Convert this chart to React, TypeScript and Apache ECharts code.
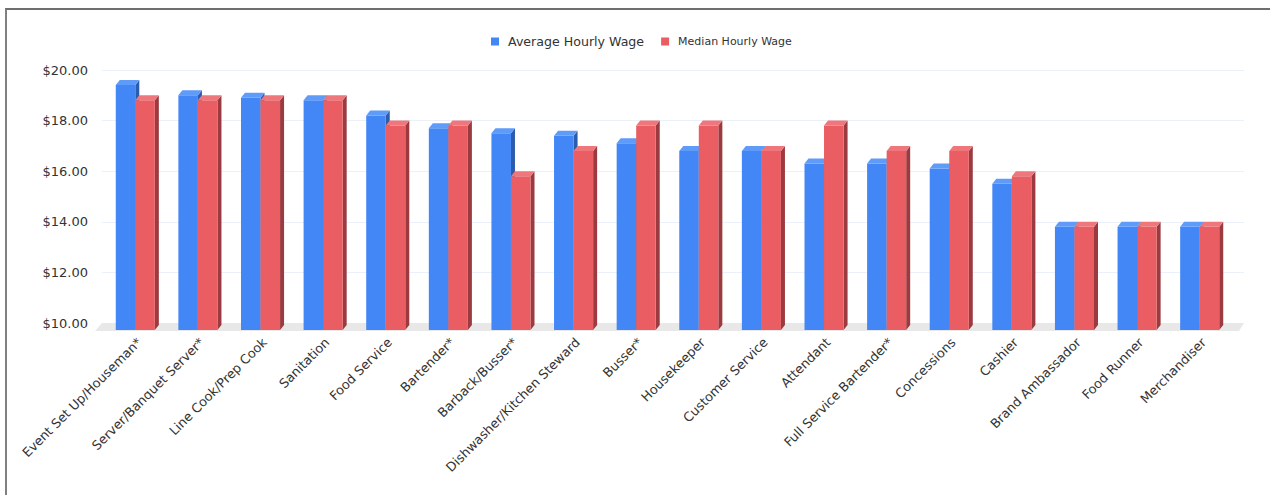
import React, { useEffect, useRef } from "react";
import * as echarts from "echarts";

const categories = [
  "Event Set Up/Houseman*",
  "Server/Banquet Server*",
  "Line Cook/Prep Cook",
  "Sanitation",
  "Food Service",
  "Bartender*",
  "Barback/Busser*",
  "Dishwasher/Kitchen Steward",
  "Busser*",
  "Housekeeper",
  "Customer Service",
  "Attendant",
  "Full Service Bartender*",
  "Concessions",
  "Cashier",
  "Brand Ambassador",
  "Food Runner",
  "Merchandiser",
];

const averageWage = [19.6, 19.2, 19.1, 19.0, 18.4, 17.9, 17.7, 17.6, 17.3, 17.0, 17.0, 16.5, 16.5, 16.3, 15.7, 14.0, 14.0, 14.0];
const medianWage = [19, 19, 19, 19, 18, 18, 16, 17, 18, 18, 17, 18, 17, 17, 16, 14, 14, 14];

const yTicks = [10, 12, 14, 16, 18, 20];

const seriesNames = ["Average Hourly Wage", "Median Hourly Wage"];

const palette = [
  { front: "#4386f5", top: "#5f9bf8", side: "#2b5cad" },
  { front: "#e95d63", top: "#ef777c", side: "#9b3a3f" },
];

const DX = 4;
const DY = 5;

function makeBarSeries(s: number, values: number[]) {
  return {
    type: "custom",
    name: seriesNames[s],
    xAxisIndex: 0,
    yAxisIndex: 0,
    z: 3,
    silent: true,
    itemStyle: { color: palette[s].front },
    encode: { x: 0, y: 1 },
    data: values.map((v, i) => [i, v]),
    renderItem: (params: any, api: any) => {
      const i = api.value(0);
      const v = api.value(1);
      const top = api.coord([i, v]);
      const base = api.coord([i, yTicks[0]]);
      const band = api.size([1, 0])[0];
      const w = band * 0.312;
      const bx = s === 0 ? top[0] - w : top[0];
      const fx = bx - DX;
      const fyTop = top[1] + DY;
      const fyBot = base[1] + 7;
      const c = palette[s];
      return {
        type: "group",
        children: [
          {
            type: "polygon",
            shape: {
              points: [
                [fx + w, fyTop],
                [fx + w + DX, fyTop - DY],
                [fx + w + DX, fyBot - DY],
                [fx + w, fyBot],
              ],
            },
            style: { fill: c.side },
          },
          {
            type: "rect",
            shape: { x: fx, y: fyTop, width: w, height: fyBot - fyTop },
            style: { fill: c.front },
          },
          {
            type: "polygon",
            shape: {
              points: [
                [fx, fyTop],
                [fx + DX, fyTop - DY],
                [fx + w + DX, fyTop - DY],
                [fx + w, fyTop],
              ],
            },
            style: { fill: c.top },
          },
        ],
      };
    },
  };
}

export default function App() {
  const ref = useRef<HTMLDivElement>(null);

  useEffect(() => {
    if (!ref.current) return;
    const chart = echarts.init(ref.current, null, { renderer: "svg" });
    const option: any = {
      animation: false,
      backgroundColor: "transparent",
      textStyle: { fontFamily: "DejaVu Sans" },
      legend: {
        data: seriesNames,
        left: 486,
        top: 30,
        itemWidth: 8,
        itemHeight: 8,
        itemGap: 17,
        icon: "rect",
        formatter: (name: string) =>
          name === seriesNames[0] ? `{a|${name}}` : `{b|${name}}`,
        textStyle: {
          rich: {
            a: { fontSize: 12.6, color: "#333", fontFamily: "DejaVu Sans", padding: [0, 0, 0, 4] },
            b: { fontSize: 11, color: "#333", fontFamily: "DejaVu Sans", padding: [0, 0, 0, 4] },
          },
        },
      },
      grid: [
        { left: 108, right: 35, top: 70, bottom: 172 },
        { left: 102, right: 26, top: 70, bottom: 172 },
      ],
      xAxis: [
        {
          type: "category",
          gridIndex: 0,
          data: categories,
          axisLine: { show: false },
          axisTick: { show: false },
          axisLabel: {
            interval: 0,
            rotate: 45,
            margin: 17,
            fontSize: 12.8,
            color: "#333",
            fontFamily: "DejaVu Sans",
          },
        },
        {
          type: "value",
          gridIndex: 1,
          min: 0,
          max: 1,
          show: false,
        },
      ],
      yAxis: [
        {
          type: "value",
          gridIndex: 0,
          min: yTicks[0],
          max: yTicks[yTicks.length - 1],
          interval: 2,
          show: false,
        },
        {
          type: "value",
          gridIndex: 1,
          min: yTicks[0],
          max: yTicks[yTicks.length - 1],
          interval: 2,
          axisLine: { show: false },
          axisTick: { show: false },
          splitLine: { show: true, lineStyle: { color: "#eaf1fb", width: 1 } },
          axisLabel: {
            margin: 14,
            fontSize: 13,
            color: "#333",
            fontFamily: "DejaVu Sans",
            formatter: (v: number) => `$${v.toFixed(2)}`,
          },
        },
      ],
      series: [
        {
          type: "custom",
          name: "floor",
          xAxisIndex: 1,
          yAxisIndex: 1,
          z: 1,
          silent: true,
          data: [[0, yTicks[0]]],
          renderItem: (params: any) => {
            const cs = params.coordSys;
            const yb = cs.y + cs.height;
            return {
              type: "polygon",
              shape: {
                points: [
                  [cs.x, yb],
                  [cs.x + cs.width, yb],
                  [cs.x + cs.width - 5, yb + 8],
                  [cs.x - 7, yb + 8],
                ],
              },
              style: { fill: "#e8e8e8" },
            };
          },
        },
        makeBarSeries(0, averageWage),
        makeBarSeries(1, medianWage),
      ],
    };
    chart.setOption(option);
    return () => chart.dispose();
  }, []);

  return (
    <div style={{ position: "fixed", left: 0, top: 0, width: 1270, height: 495, background: "#fff" }}>
      <div
        style={{
          position: "absolute",
          left: 5,
          top: 8,
          width: 1270,
          height: 495,
          borderLeft: "2px solid #808080",
          borderTop: "2px solid #6e6e6e",
        }}
      />
      <div ref={ref} style={{ position: "absolute", left: 0, top: 0, width: 1270, height: 495 }} />
    </div>
  );
}
